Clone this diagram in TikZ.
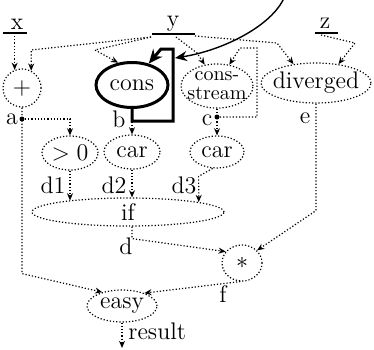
\documentclass[tikz,border=0pt]{standalone}
\usetikzlibrary{arrows.meta,shapes.geometric,calc}
\begin{document}
\begin{tikzpicture}[x=0.5pt,y=-0.5pt,
  dots/.style={line width=0.6pt,densely dotted},
  arr/.style={dots,-{Stealth[length=3.6pt,width=3pt]}},
  op/.style={ellipse,draw,dots,inner sep=0pt},
  every label/.style={inner sep=0pt,font=\fontsize{12}{14}\selectfont},
  lab/.style={inner sep=0pt,font=\fontsize{12}{14}\selectfont},
  thickl/.style={line width=1.5pt},
  uline/.style={line width=0.7pt},
  dotn/.style={circle,fill,inner sep=0pt,minimum size=2.5pt}]
\useasboundingbox (0,0) rectangle (374,349);

% variable labels
\node[lab,anchor=base] (xl) at (17,29) {x};
\node[lab,anchor=base] (yl) at (173,26) {y};
\node[lab,anchor=base] (zl) at (325,28) {z};
\draw[uline] ($(xl.base)+(-14,4)$) -- ($(xl.base)+(10,4)$);
\draw[uline] ($(yl.base)+(-21,8)$) -- ($(yl.base)+(22,8)$);
\draw[uline] ($(zl.base)+(-10,5)$) -- ($(zl.base)+(13,5)$);

% operator nodes
\node[op,circle,minimum size=19pt,label=center:{$+$}] (plus) at (22,88) {};
\node[ellipse,draw,thickl,inner sep=0pt,minimum width=36pt,minimum height=22.5pt,label=center:{cons}] (cons) at (132,85) {};
\node[op,minimum width=36pt,minimum height=22pt,
  label={[align=center,font=\fontsize{10}{9.5}\selectfont]center:{cons-\\stream}}] (cs) at (217,86) {};
\node[op,minimum width=55pt,minimum height=20pt,label=center:{diverged}] (div) at (316,83) {};
\node[op,minimum width=28pt,minimum height=17pt,label=center:{$>0$}] (gt) at (70,153) {};
\node[op,minimum width=28pt,minimum height=17pt,label=center:{car}] (car1) at (132,152) {};
\node[op,minimum width=27pt,minimum height=16pt,label=center:{car}] (car2) at (217,152) {};
\node[op,minimum width=96pt,minimum height=14pt,label=center:{if}] (if) at (128,212) {};
\node[op,minimum width=20pt,minimum height=18pt,label=center:{$*$}] (star) at (242,263) {};
\node[op,minimum width=35pt,minimum height=16pt,label=center:{easy}] (easy) at (122,306) {};

% edge labels
\node[lab] (la) at (12,119) {a};
\node[lab] (lb) at (119,119) {b};
\node[lab] (lc) at (207,120) {c};
\node[lab] (le) at (305,118) {e};
\node[lab] (ld1) at (53,185) {d1};
\node[lab] (ld2) at (114,185) {d2};
\node[lab] (ld3) at (184,185) {d3};
\node[lab] (ld) at (126,246) {d};
\node[lab] (lf) at (223,294) {f};
\node[lab,anchor=west] (lres) at (128,331) {result};

% junction dots
\node[dotn] (adot) at (22,119) {};
\node[dotn] (cdot) at (217,117) {};

% helper coordinates
\coordinate (xs) at (15,36);
\coordinate (r50) at (0,50);
\coordinate (ya) at (151,37);
\coordinate (yb) at (176,37);
\coordinate (yc) at (195,36);
\coordinate (zs) at (321,35);
\coordinate (cvS) at (284,-2);
\coordinate (cvE) at (175,58);
\coordinate (res) at (122,348);

% inputs
\draw[arr] (plus.112 |- xs) -- (plus.112);
\draw[arr] (ya) -- (plus.62 |- r50) -- (plus.62);
\draw[arr] (ya) -- (95,50) -- (cons.122);
\draw[arr] (yb) -- (197,53) -- (cs.120);
\draw[arr] (yc) -- (277,43) -- (div.140);
\draw[arr] (zs) -- (355,43) -- (div.40);

% cons feedback loop and outer arrow
\draw[thickl,-{Stealth[length=7pt,width=6pt]}] (cons.south) -- ++(0,12) -| (173,49) -- (161,49) -- (cons.52);
\draw[line width=0.7pt,-{Stealth[length=6pt,width=5pt]}] (cvS) .. controls (272,25) and (225,50) .. (cvE);

% a
\draw[arr] (plus.south) -- ++(0,166) -- (easy.145);
\draw[arr] (adot) -- (gt.north |- adot) -- (gt.north);
% b
\draw[arr] (cons.south) -- (car1.north);
% c
\draw[arr] (cs.south) -- (car2.north);
\draw[arr] (cdot) -- ++(40,0) |- (240,48) -- (cs.60);
% d1 d2 d3
\draw[arr] (gt.south) -- (gt.south |- if.169);
\draw[arr] (car1.south) -- (car1.south |- if.north);
\draw[arr] (car2.255) -- ++(-14,8) -- (if.8);
% d
\draw[arr] (car1.south |- if.south) -- ++(0,12) -- (star.145);
% e
\draw[arr] (div.south) -- ++(0,107) -- (star.40);
% f
\draw[arr] (star.265) -- (easy.30);
% result
\draw[arr] (easy.south) -- (res);
\end{tikzpicture}
\end{document}
